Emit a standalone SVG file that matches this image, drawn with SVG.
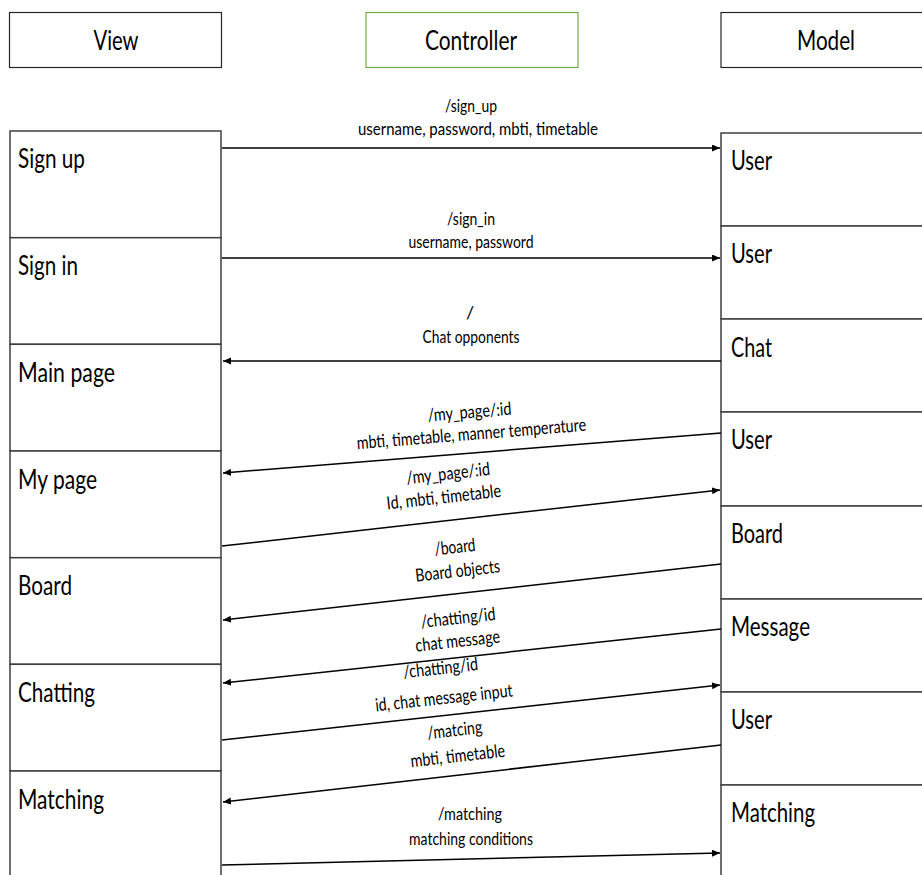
<svg xmlns="http://www.w3.org/2000/svg" width="922" height="875" viewBox="0 0 922 875">
<defs>
<style>
.box{fill:#fff;stroke:#3f3f3f;stroke-width:1.5}
.hdr{fill:#fff;stroke:#262626;stroke-width:1.2}
.ctl{fill:#fff;stroke:#70ad47;stroke-width:1.2}
.t{font-family:Lato,"Liberation Sans",sans-serif;fill:#000;font-size:26px}
.h{font-family:Lato,"Liberation Sans",sans-serif;fill:#000;font-size:26px;text-anchor:middle}
.l{font-family:Lato,"Liberation Sans",sans-serif;fill:#000;font-size:18px;text-anchor:middle}
.c{stroke:#000;stroke-width:1.5;fill:none}
</style>
<marker id="ah" markerUnits="userSpaceOnUse" markerWidth="9" markerHeight="8" refX="8" refY="3.5" orient="auto">
<path d="M0,0 L8,3.5 L0,7 z" fill="#000"/>
</marker>
</defs>
<rect width="922" height="875" fill="#fff"/>

<g id="hdr-view"><rect class="hdr" x="9.5" y="12.5" width="212" height="55"/><text class="h" x="116" y="50" textLength="45" lengthAdjust="spacingAndGlyphs">View</text></g>
<g id="hdr-controller"><rect class="ctl" x="366" y="12.5" width="212" height="55"/><text class="h" x="471" y="50" textLength="92" lengthAdjust="spacingAndGlyphs">Controller</text></g>
<g id="hdr-model"><rect class="hdr" x="721" y="12.5" width="212" height="55"/><text class="h" x="826" y="50" textLength="58" lengthAdjust="spacingAndGlyphs">Model</text></g>

<g id="v-signup"><rect class="box" x="10" y="131" width="211" height="106.7"/><text class="t" x="18" y="168" textLength="67" lengthAdjust="spacingAndGlyphs">Sign up</text></g>
<g id="v-signin"><rect class="box" x="10" y="237.7" width="211" height="106.6"/><text class="t" x="18" y="275" textLength="60" lengthAdjust="spacingAndGlyphs">Sign in</text></g>
<g id="v-main"><rect class="box" x="10" y="344.3" width="211" height="106.7"/><text class="t" x="18" y="382" textLength="97" lengthAdjust="spacingAndGlyphs">Main page</text></g>
<g id="v-mypage"><rect class="box" x="10" y="451" width="211" height="106.7"/><text class="t" x="18" y="489" textLength="79" lengthAdjust="spacingAndGlyphs">My page</text></g>
<g id="v-board"><rect class="box" x="10" y="557.7" width="211" height="106.6"/><text class="t" x="18" y="595" textLength="54" lengthAdjust="spacingAndGlyphs">Board</text></g>
<g id="v-chatting"><rect class="box" x="10" y="664.3" width="211" height="106.7"/><text class="t" x="18" y="702" textLength="77" lengthAdjust="spacingAndGlyphs">Chatting</text></g>
<g id="v-matching"><rect class="box" x="10" y="771" width="211" height="120"/><text class="t" x="18" y="809" textLength="86" lengthAdjust="spacingAndGlyphs">Matching</text></g>

<g id="m-user1"><rect class="box" x="721" y="133" width="212" height="93"/><text class="t" x="731" y="170" textLength="41" lengthAdjust="spacingAndGlyphs">User</text></g>
<g id="m-user2"><rect class="box" x="721" y="226" width="212" height="93"/><text class="t" x="731" y="263" textLength="41" lengthAdjust="spacingAndGlyphs">User</text></g>
<g id="m-chat"><rect class="box" x="721" y="319" width="212" height="93"/><text class="t" x="731" y="357" textLength="41" lengthAdjust="spacingAndGlyphs">Chat</text></g>
<g id="m-user3"><rect class="box" x="721" y="412" width="212" height="94"/><text class="t" x="731" y="449" textLength="41" lengthAdjust="spacingAndGlyphs">User</text></g>
<g id="m-board"><rect class="box" x="721" y="506" width="212" height="93"/><text class="t" x="731" y="543" textLength="52" lengthAdjust="spacingAndGlyphs">Board</text></g>
<g id="m-message"><rect class="box" x="721" y="599" width="212" height="93"/><text class="t" x="731" y="636" textLength="79" lengthAdjust="spacingAndGlyphs">Message</text></g>
<g id="m-user4"><rect class="box" x="721" y="692" width="212" height="93"/><text class="t" x="731" y="729" textLength="41" lengthAdjust="spacingAndGlyphs">User</text></g>
<g id="m-matching"><rect class="box" x="721" y="785" width="212" height="110"/><text class="t" x="731" y="822" textLength="84" lengthAdjust="spacingAndGlyphs">Matching</text></g>

<g id="connectors">
<line class="c" x1="222" y1="148" x2="720" y2="148" marker-end="url(#ah)"/>
<line class="c" x1="222" y1="258" x2="720" y2="258" marker-end="url(#ah)"/>
<line class="c" x1="721" y1="361" x2="223" y2="361" marker-end="url(#ah)"/>
<line class="c" x1="721" y1="433" x2="223" y2="473" marker-end="url(#ah)"/>
<line class="c" x1="222" y1="546" x2="720" y2="490" marker-end="url(#ah)"/>
<line class="c" x1="721" y1="564" x2="223" y2="620" marker-end="url(#ah)"/>
<line class="c" x1="721" y1="629" x2="223" y2="683" marker-end="url(#ah)"/>
<line class="c" x1="222" y1="740" x2="720" y2="685" marker-end="url(#ah)"/>
<line class="c" x1="721" y1="745" x2="223" y2="802" marker-end="url(#ah)"/>
<line class="c" x1="222" y1="865" x2="720" y2="853" marker-end="url(#ah)"/>
</g>

<g id="labels">
<text class="l" x="471" y="112" textLength="52" lengthAdjust="spacingAndGlyphs">/sign_up</text>
<text class="l" x="478" y="135" textLength="240" lengthAdjust="spacingAndGlyphs">username, password, mbti, timetable</text>
<text class="l" x="471" y="225" textLength="48" lengthAdjust="spacingAndGlyphs">/sign_in</text>
<text class="l" x="471" y="248" textLength="125" lengthAdjust="spacingAndGlyphs">username, password</text>
<text class="l" x="470" y="319">/</text>
<text class="l" x="471" y="343" textLength="97" lengthAdjust="spacingAndGlyphs">Chat opponents</text>
<g transform="rotate(-4.6 471 430)">
<text class="l" x="471" y="418" textLength="84" lengthAdjust="spacingAndGlyphs">/my_page/:id</text>
<text class="l" x="471" y="440" textLength="230" lengthAdjust="spacingAndGlyphs">mbti, timetable, manner temperature</text>
</g>
<g transform="rotate(-6.4 445 490)">
<text class="l" x="450" y="480" textLength="84" lengthAdjust="spacingAndGlyphs">/my_page/:id</text>
<text class="l" x="443" y="503" textLength="115" lengthAdjust="spacingAndGlyphs">Id, mbti, timetable</text>
</g>
<g transform="rotate(-6.4 457 565)">
<text class="l" x="457" y="553" textLength="41" lengthAdjust="spacingAndGlyphs">/board</text>
<text class="l" x="457" y="577" textLength="85" lengthAdjust="spacingAndGlyphs">Board objects</text>
</g>
<g transform="rotate(-6.2 458 635)">
<text class="l" x="460" y="624" textLength="75" lengthAdjust="spacingAndGlyphs">/chatting/id</text>
<text class="l" x="457" y="647" textLength="85" lengthAdjust="spacingAndGlyphs">chat message</text>
</g>
<g transform="rotate(-6.3 443 690)">
<text class="l" x="443" y="674" textLength="75" lengthAdjust="spacingAndGlyphs">/chatting/id</text>
<text class="l" x="443" y="704" textLength="138" lengthAdjust="spacingAndGlyphs">id, chat message input</text>
</g>
<g transform="rotate(-6.5 457 750)">
<text class="l" x="457" y="736" textLength="55" lengthAdjust="spacingAndGlyphs">/matcing</text>
<text class="l" x="457" y="762" textLength="95" lengthAdjust="spacingAndGlyphs">mbti, timetable</text>
</g>
<text class="l" x="470" y="820" textLength="64" lengthAdjust="spacingAndGlyphs">/matching</text>
<text class="l" x="471" y="845" textLength="124" lengthAdjust="spacingAndGlyphs">matching conditions</text>
</g>
</svg>
